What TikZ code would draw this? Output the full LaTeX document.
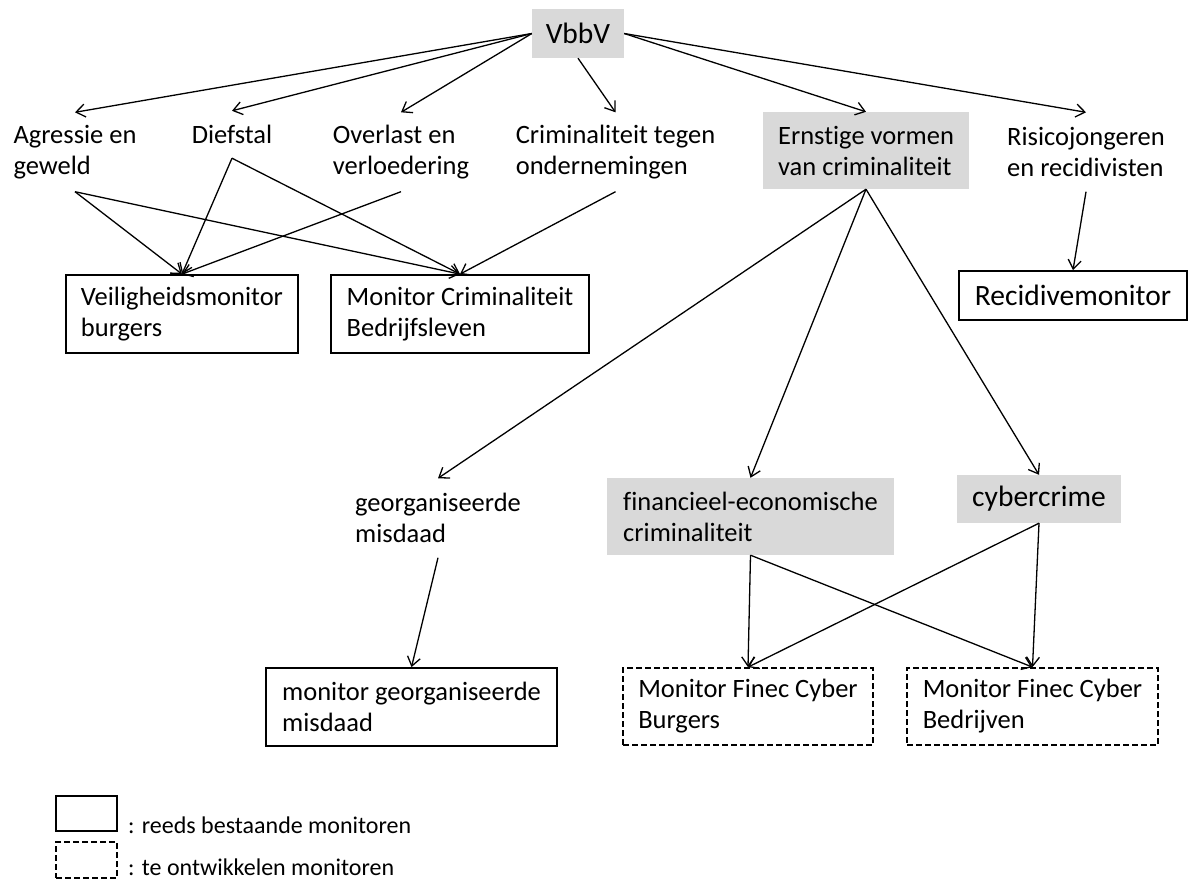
\documentclass[tikz,border=0pt]{standalone}
\usepackage{fontspec}
\setmainfont{Carlito}[Ligatures=NoCommon]
\usetikzlibrary{arrows.meta}
\definecolor{boxgrey}{HTML}{D9D9D9}

\begin{document}
\begin{tikzpicture}[x=1pt, y=-1pt, >={Straight Barb[length=9pt,width=13pt]},
  every node/.style={font=\fontsize{26.5}{31}\selectfont, align=flush left, inner sep=0pt},
  lbl/.style={minimum height=79pt},
  grey/.style={fill=boxgrey},
  mon/.style={draw, line width=1.8pt},
  plan/.style={mon, dash pattern=on 6pt off 3pt},
  big/.style={font=\fontsize{29.5}{35}\selectfont, align=center},
  link/.style={->, line width=1.3pt}]
  \useasboundingbox (0,0) rectangle (1188,881);

  % top
  \node[grey, big, minimum width=92pt, minimum height=49pt] (vbbv) at (578,33.5) {VbbV};

  \node[lbl] (agressie) at (75,152) {Agressie en\\geweld};
  \node[lbl, minimum height=47pt] (diefstal) at (232,134.5) {Diefstal};
  \node[lbl] (overlast) at (401,152) {Overlast en\\verloedering};
  \node[lbl] (crimond) at (615.5,152) {Criminaliteit tegen\\ondernemingen};
  \node[grey, minimum width=206pt, minimum height=77pt] (ernstig) at (866,150.5) {Ernstige vormen\\van criminaliteit};
  \node[lbl] (risico) at (1086,152) {Risicojongeren\\en recidivisten};

  % existing monitors
  \node[mon, minimum width=232pt, minimum height=78pt] (vm) at (182,314) {Veiligheidsmonitor\\burgers};
  \node[mon, minimum width=258pt, minimum height=78pt] (mcb) at (460,314) {Monitor Criminaliteit\\Bedrijfsleven};
  \node[mon, big, minimum width=228pt, minimum height=49pt] (recidive) at (1073,295.5) {Recidivemonitor};

  % serious crime
  \node[lbl] (georg) at (438,518) {georganiseerde\\misdaad};
  \node[grey, minimum width=287pt, minimum height=77pt] (finec) at (750.5,516.5) {financieel-economische\\criminaliteit};
  \node[grey, big, minimum width=164pt, minimum height=48pt] (cyber) at (1039,499) {cybercrime};

  \node[mon, minimum width=291pt, minimum height=78pt] (mgm) at (411.5,707) {monitor georganiseerde\\misdaad};
  \node[plan, minimum width=250pt, minimum height=77pt] (fcburg) at (748,706.5) {Monitor Finec Cyber\\Burgers};
  \node[plan, minimum width=251pt, minimum height=77pt] (fcbedr) at (1032.5,706.5) {Monitor Finec Cyber\\Bedrijven};

  % legend
  \node[mon, minimum width=61pt, minimum height=35pt] (keysolid) at (86.5,813.5) {};
  \node[plan, minimum width=61pt, minimum height=36pt] (keydash) at (86.5,860) {};
  \node[anchor=base west, font=\fontsize{24}{28}\selectfont] (txtsolid) at (128,833) {: reeds bestaande monitoren};
  \node[anchor=base west, font=\fontsize{24}{28}\selectfont] (txtdash) at (128,875) {: te ontwikkelen monitoren};

  \draw[link] (vbbv.west) -- (agressie.north);
  \draw[link] (vbbv.west) -- (diefstal.north);
  \draw[link] (vbbv.west) -- (overlast.north);
  \draw[link] (vbbv.south) -- (crimond.north);
  \draw[link] (vbbv.east) -- (ernstig.north);
  \draw[link] (vbbv.east) -- (risico.north);

  \draw[link] (agressie.south) -- (vm.north);
  \draw[link] (agressie.south) -- (mcb.north);
  \draw[link] (diefstal.south) -- (vm.north);
  \draw[link] (diefstal.south) -- (mcb.north);
  \draw[link] (overlast.south) -- (vm.north);
  \draw[link] (crimond.south) -- (mcb.north);
  \draw[link] (risico.south) -- (recidive.north);

  \draw[link] (ernstig.south) -- (georg.north);
  \draw[link] (ernstig.south) -- (finec.north);
  \draw[link] (ernstig.south) -- (cyber.north);
  \draw[link] (georg.south) -- (mgm.north);
  \draw[link] (finec.south) -- (fcburg.north);
  \draw[link] (finec.south) -- (fcbedr.north);
  \draw[link] (cyber.south) -- (fcburg.north);
  \draw[link] (cyber.south) -- (fcbedr.north);
\end{tikzpicture}
\end{document}
